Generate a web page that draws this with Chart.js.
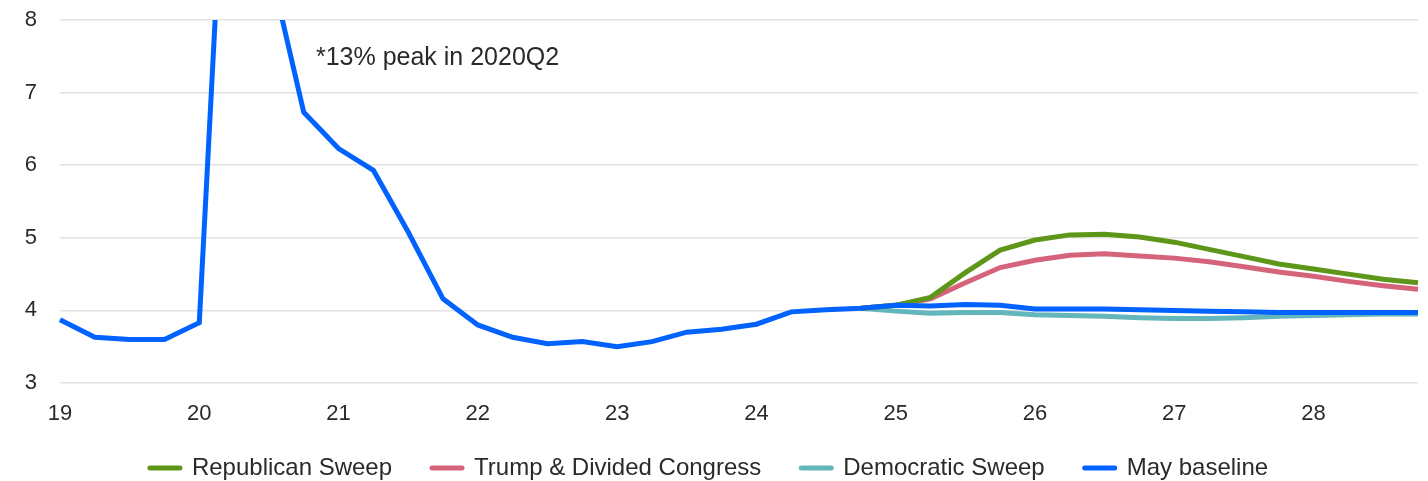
<!DOCTYPE html>
<html>
<head>
<meta charset="utf-8">
<script src="https://cdn.jsdelivr.net/npm/chart.js@4.4.1/dist/chart.umd.min.js"></script>
<style>
  html, body { margin: 0; padding: 0; background: #ffffff; overflow: hidden; }
  #wrap { width: 1428px; height: 481px; position: relative; }
</style>
</head>
<body>
<div id="wrap"><canvas id="chart"></canvas></div>
<script>
// Quarters, 2019Q1 .. 2028Q4
const quarters = [
  '2019Q1','2019Q2','2019Q3','2019Q4','2020Q1','2020Q2','2020Q3','2020Q4',
  '2021Q1','2021Q2','2021Q3','2021Q4','2022Q1','2022Q2','2022Q3','2022Q4',
  '2023Q1','2023Q2','2023Q3','2023Q4','2024Q1','2024Q2','2024Q3','2024Q4',
  '2025Q1','2025Q2','2025Q3','2025Q4','2026Q1','2026Q2','2026Q3','2026Q4',
  '2027Q1','2027Q2','2027Q3','2027Q4','2028Q1','2028Q2','2028Q3','2028Q4'
];

// Unemployment rate, %
const mayBaseline = [
  3.87, 3.63, 3.60, 3.60, 3.83, 13.0, 8.8, 6.73,
  6.23, 5.93, 5.08, 4.16, 3.80, 3.63, 3.54, 3.57,
  3.50, 3.57, 3.70, 3.74, 3.81, 3.98, 4.01, 4.03,
  4.07, 4.06, 4.08, 4.07, 4.02, 4.02, 4.02, 4.01,
  4.00, 3.99, 3.98, 3.97, 3.97, 3.97, 3.97, 3.97
];

const republicanSweep = [
  null, null, null, null, null, null, null, null,
  null, null, null, null, null, null, null, null,
  null, null, null, null, null, null, null, 4.03,
  4.07, 4.18, 4.52, 4.83, 4.97, 5.04, 5.05, 5.01,
  4.94, 4.84, 4.74, 4.64, 4.57, 4.50, 4.43, 4.38
];

const trumpDividedCongress = [
  null, null, null, null, null, null, null, null,
  null, null, null, null, null, null, null, null,
  null, null, null, null, null, null, null, 4.03,
  4.07, 4.16, 4.38, 4.59, 4.69, 4.76, 4.78, 4.75,
  4.72, 4.67, 4.60, 4.53, 4.47, 4.40, 4.34, 4.29
];

const democraticSweep = [
  null, null, null, null, null, null, null, null,
  null, null, null, null, null, null, null, null,
  null, null, null, null, null, null, null, 4.03,
  3.99, 3.96, 3.97, 3.97, 3.94, 3.93, 3.92, 3.90,
  3.89, 3.89, 3.90, 3.92, 3.93, 3.94, 3.95, 3.95
];

const seriesNames = ['Republican Sweep', 'Trump & Divided Congress', 'Democratic Sweep', 'May baseline'];
const seriesColors = ['#5e9619', '#d5647a', '#63b6bb', '#0062ff'];

const peakNote = '*13% peak in 2020Q2';
const notePosition = { index: 7.35, value: 7.48 };

const FONT = "'Liberation Sans', Arial, sans-serif";
const TEXT = '#2a2a2a';
const LEGEND_TEXT_Y = 468;

// Writes the footnote about the clipped 2020 spike into the plot
const notePlugin = {
  id: 'peakNote',
  afterDatasetsDraw(chart) {
    const { ctx, scales } = chart;
    const x = scales.x.getPixelForValue(notePosition.index);
    const y = scales.y.getPixelForValue(notePosition.value);
    ctx.save();
    ctx.font = '25px ' + FONT;
    ctx.fillStyle = TEXT;
    ctx.textAlign = 'left';
    ctx.textBaseline = 'middle';
    ctx.fillText(peakNote, x, y);
    ctx.restore();
  }
};

// Legend rows use wide horizontal padding between items; keep the row
// itself close to the bottom edge instead of letting that padding push it down.
const legendPlacer = {
  id: 'legendPlacer',
  afterLayout(chart) {
    const lg = chart.legend;
    if (!lg) return;
    const pad = lg.options.labels.padding;
    const size = lg.options.labels.font.size;
    lg.top = LEGEND_TEXT_Y - size / 2 - pad;
    lg.height = lg.bottom - lg.top;
  }
};

const seriesData = [republicanSweep, trumpDividedCongress, democraticSweep, mayBaseline];
// draw order: baseline on top, then the scenarios
const drawOrder = [1, 2, 3, 0];

const datasets = seriesNames.map((name, i) => ({
  label: name,
  data: seriesData[i],
  borderColor: seriesColors[i],
  backgroundColor: seriesColors[i],
  borderWidth: 5,
  pointRadius: 0,
  pointHoverRadius: 0,
  tension: 0,
  fill: false,
  spanGaps: false,
  order: drawOrder[i],
  clip: { left: 4, right: 4, top: 0, bottom: 4 }
}));

new Chart(document.getElementById('chart'), {
  type: 'line',
  data: { labels: quarters, datasets },
  options: {
    responsive: true,
    maintainAspectRatio: false,
    animation: false,
    layout: { padding: { top: 20, right: 10, left: 0, bottom: 0 } },
    plugins: {
      tooltip: { enabled: false },
      legend: {
        position: 'bottom',
        maxHeight: 40,
        labels: {
          font: { family: FONT, size: 24 },
          color: TEXT,
          usePointStyle: true,
          pointStyle: 'line',
          pointStyleWidth: 30,
          padding: 40,
          sort: (a, b) => a.datasetIndex - b.datasetIndex,
          generateLabels(chart) {
            const items = Chart.defaults.plugins.legend.labels.generateLabels(chart);
            items.forEach(it => {
              it.lineWidth = 5;
              it.lineCap = 'round';
              it.pointStyle = 'line';
            });
            return items;
          }
        }
      }
    },
    scales: {
      x: {
        type: 'category',
        grid: { display: false, drawTicks: true, tickLength: 18 },
        border: { display: false },
        ticks: {
          autoSkip: false,
          maxRotation: 0,
          padding: 0,
          color: TEXT,
          font: { family: FONT, size: 22 },
          callback(value, index) {
            const q = quarters[index];
            return q.endsWith('Q1') ? q.slice(2, 4) : '';
          }
        },
        afterFit(scale) { scale.height = 58; }
      },
      y: {
        min: 3,
        max: 8,
        grid: { color: '#e2e2e2', lineWidth: 1.5, drawTicks: true, tickLength: 23, tickColor: 'rgba(0,0,0,0)' },
        border: { display: false },
        ticks: {
          stepSize: 1,
          padding: 0,
          color: TEXT,
          font: { family: FONT, size: 22 }
        },
        afterFit(scale) { scale.width = 60; }
      }
    }
  },
  plugins: [notePlugin, legendPlacer]
});
</script>
</body>
</html>
